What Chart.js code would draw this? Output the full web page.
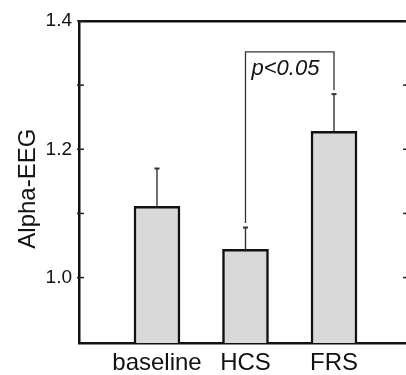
<!DOCTYPE html>
<html><head><meta charset="utf-8">
<script src="https://cdn.jsdelivr.net/npm/chart.js@4"></script>
<style>html,body{margin:0;padding:0;background:#fff;overflow:hidden;width:406px;height:375px}canvas{display:block}</style>
</head><body>
<canvas id="c" width="414" height="375"></canvas>
<script>
const categories = ['baseline', 'HCS', 'FRS'];
const meanValues = [1.111, 1.044, 1.228];
const errorValues = [0.059, 0.034, 0.058];
const yTickValues = [1.0, 1.1, 1.2, 1.3, 1.4];
const yTickLabels = ['1.0', '', '1.2', '', '1.4'];
const yAxisTitle = 'Alpha-EEG';
const sigPair = [1, 2];
const sigBracketBottoms = [1.085, 1.292];
const sigBracketTop = 1.352;
const sigLabel = 'p<0.05';
const sigLabelValue = 1.325;

const Y_MIN = 0.898, Y_MAX = 1.4;
const X_MIN = -0.881, X_MAX = 2.836;
const FONT = '"Liberation Sans", Arial, Helvetica, sans-serif';
const INK = '#111';

const overlay = {
  id: 'overlay',
  afterDatasetsDraw(chart) {
    const ctx = chart.ctx;
    const xs = chart.scales.x, ys = chart.scales.y;
    const area = chart.chartArea;
    ctx.save();
    ctx.strokeStyle = '#333';
    meanValues.forEach((m, i) => {
      const px = xs.getPixelForValue(i);
      const y0 = ys.getPixelForValue(m);
      const y1 = ys.getPixelForValue(m + errorValues[i]);
      ctx.lineWidth = 1.4;
      ctx.beginPath(); ctx.moveTo(px, y0); ctx.lineTo(px, y1); ctx.stroke();
      ctx.lineWidth = 2;
      ctx.beginPath(); ctx.moveTo(px - 2.5, y1); ctx.lineTo(px + 2.5, y1); ctx.stroke();
    });
    const xa = xs.getPixelForValue(sigPair[0]);
    const xb = xs.getPixelForValue(sigPair[1]);
    const yt = ys.getPixelForValue(sigBracketTop);
    ctx.strokeStyle = '#333';
    ctx.lineWidth = 1.3;
    ctx.beginPath();
    ctx.moveTo(xa, ys.getPixelForValue(sigBracketBottoms[0]));
    ctx.lineTo(xa, yt);
    ctx.lineTo(xb, yt);
    ctx.lineTo(xb, ys.getPixelForValue(sigBracketBottoms[1]));
    ctx.stroke();
    ctx.fillStyle = INK;
    ctx.font = 'italic 22px ' + FONT;
    ctx.textAlign = 'left';
    ctx.textBaseline = 'middle';
    ctx.fillText(sigLabel, xa + 6, ys.getPixelForValue(sigLabelValue));
    ctx.strokeStyle = '#222';
    ctx.lineWidth = 1.5;
    yTickValues.forEach(v => {
      const py = ys.getPixelForValue(v);
      ctx.beginPath(); ctx.moveTo(area.left - 2, py); ctx.lineTo(area.left + 5, py); ctx.stroke();
      ctx.beginPath(); ctx.moveTo(area.right - 5, py); ctx.lineTo(area.right, py); ctx.stroke();
    });
    ctx.restore();
  }
};

new Chart(document.getElementById('c'), {
  type: 'bar',
  data: {
    datasets: [{
      data: meanValues.map((v, i) => ({ x: i, y: v })),
      backgroundColor: '#d9d9d9',
      borderColor: INK,
      borderWidth: 2.5,
      barThickness: 46,
      base: Y_MIN
    }]
  },
  options: {
    responsive: false,
    animation: false,
    devicePixelRatio: 1,
    layout: { padding: { top: 21, right: 6, left: 0, bottom: 0 } },
    plugins: { legend: { display: false }, tooltip: { enabled: false } },
    scales: {
      x: {
        type: 'linear', position: 'bottom', min: X_MIN, max: X_MAX, offset: false,
        afterBuildTicks: s => { s.ticks = categories.map((c, i) => ({ value: i })); },
        ticks: { callback: v => categories[v], font: { size: 24, family: FONT }, color: INK, padding: 6, maxRotation: 0, autoSkip: false },
        grid: { display: false, drawTicks: false },
        border: { display: true, color: INK, width: 2.5 },
        afterFit: s => { s.height = 32; }
      },
      x2: {
        type: 'linear', position: 'top', min: X_MIN, max: X_MAX, offset: false,
        ticks: { display: false }, grid: { display: false, drawTicks: false },
        border: { display: true, color: INK, width: 2.5 },
        afterFit: s => { s.height = 0; }
      },
      y: {
        type: 'linear', position: 'left', min: Y_MIN, max: Y_MAX,
        afterBuildTicks: s => { s.ticks = yTickValues.map(v => ({ value: v })); },
        ticks: { callback: (v, i) => yTickLabels[i], font: { size: 19, family: FONT }, color: INK, padding: 7, autoSkip: false },
        grid: { display: false, drawTicks: false },
        border: { display: true, color: INK, width: 2.5 },
        title: { display: true, text: yAxisTitle + '  ', color: INK, font: { size: 24, family: FONT }, padding: { top: 14, bottom: 0 } },
        afterFit: s => { s.width = 79; }
      },
      y2: {
        type: 'linear', position: 'right', min: Y_MIN, max: Y_MAX,
        ticks: { display: false }, grid: { display: false, drawTicks: false },
        border: { display: true, color: INK, width: 2.5 },
        afterFit: s => { s.width = 0; }
      }
    }
  },
  plugins: [overlay]
});
</script>
</body></html>
